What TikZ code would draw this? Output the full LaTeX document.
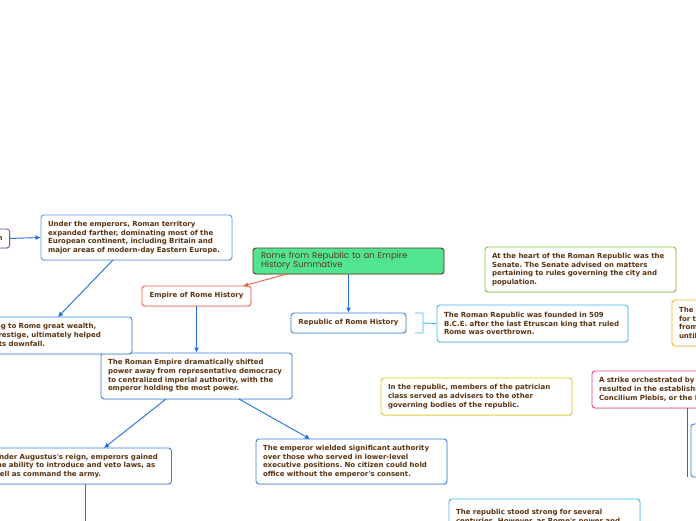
\documentclass[tikz,border=0pt]{standalone}
\usepackage{fontspec}
\newfontfamily\notefont{DejaVu Sans}
\newfontfamily\titlefont{Poppins}
\usetikzlibrary{arrows.meta,shadows}
\frenchspacing

\definecolor{notebrown}{HTML}{5A3310}
\definecolor{rootgreen}{HTML}{52E590}
\definecolor{rootedge}{HTML}{5A3A1A}
\definecolor{empblue}{HTML}{3B82E0}
\definecolor{lineblue}{HTML}{1E6FD9}
\definecolor{skyblue}{HTML}{3BB9EC}
\definecolor{redorange}{HTML}{F06040}
\definecolor{leafgreen}{HTML}{8CC43C}
\definecolor{ambery}{HTML}{F5B82E}
\definecolor{lemon}{HTML}{E5D000}
\definecolor{rosepink}{HTML}{E0457B}
\definecolor{plum}{HTML}{8A4FA0}

\begin{document}
\begin{tikzpicture}[
  x=1pt, y=-1pt,
  note/.style={draw=empblue, line width=0.9pt, rounded corners=3pt, fill=white,
    align=left, text=notebrown, inner xsep=7pt, inner ysep=0pt,
    font=\notefont\bfseries\fontsize{7}{8.7}\selectfont\frenchspacing,
    drop shadow={opacity=0.2, shadow xshift=0.6pt, shadow yshift=-1pt}},
  wide/.style={note, text width=177pt, minimum height=#1},
  topic/.style={note, align=center, minimum height=20pt},
  arrow/.style={-{Latex[length=5pt,width=5pt]}, draw=lineblue, line width=0.9pt},
  link/.style={draw=lineblue, line width=0.9pt}
]
\fill[white] (0,0) rectangle (696,520);
\useasboundingbox (0,0) rectangle (696,520);

% root
\node[note, draw=rootedge, fill=rootgreen, text=rootedge, text width=175pt, inner xsep=8pt,
  minimum height=26pt, font=\titlefont\fontsize{8.6}{9.2}\selectfont] (root) at (348.5,261)
  {Rome from Republic to an Empire\\History Summative};

% empire branch
\node[topic, draw=redorange, minimum width=109pt] (empire) at (196.5,296) {Empire of Rome History};
\node[wide=46pt] (shift) at (196.5,376)
  {The Roman Empire dramatically shifted\\power away from representative democracy\\to centralized imperial authority, with the\\emperor holding the most power.};
\node[wide=45pt, draw=empblue!80] (expand) at (136.5,237.5)
  {Under the emperors, Roman territory\\expanded farther, dominating most of the\\European continent, including Britain and\\major areas of modern-day Eastern Europe.};
\node[note, draw=plum, minimum height=19pt] (conquest) at (-17.5,238.5) {Expansion};
\node[wide=37pt] (wealth) at (36.5,335.5)
  {While bringing to Rome great wealth,\\power, and prestige, ultimately helped\\bring about its downfall.};
\node[note, text width=171pt, minimum height=36pt] (augustus) at (79,466)
  {Under Augustus's reign, emperors gained\\the ability to introduce and veto laws, as\\well as command the army.};
\node[wide=45pt] (office) at (351.5,461.5)
  {The emperor wielded significant authority\\over those who served in lower-level\\executive positions. No citizen could hold\\office without the emperor's consent.};
\coordinate (augdown) at (85,530);

\draw[arrow, draw=redorange] (287,274) -- (243,286);
\draw[arrow] (empire.south) -- (shift.north);
\draw[arrow] (conquest.east) -- (expand.west);
\draw[arrow] (113,260) -- (58,317);
\draw[arrow] (166,399) -- (104,448);
\draw[arrow] (239,399) -- (310,439);
\draw[link] (85,484) -- (augdown);

% republic branch
\node[topic, minimum width=115pt] (republic) at (348.5,323) {Republic of Rome History};
\draw[arrow] (root.south) -- (republic.north);
\node[wide=37pt, draw=skyblue] (founded) at (532.5,323.5)
  {The Roman Republic was founded in 509\\B.C.E. after the last Etruscan king that ruled\\Rome was overthrown.};
\draw[draw=skyblue, line width=0.9pt] (415,313) -- (423,313) -- (423,333) -- (415,333)
  (423,323) -- (founded.west);

\node[wide=45pt, draw=leafgreen] (senate) at (580.5,269.5)
  {At the heart of the Roman Republic was the\\Senate. The Senate advised on matters\\pertaining to rules governing the city and\\population.};
\node[wide=46pt, draw=ambery] (lasted) at (767.5,323)
  {The Republic lasted\\for the next five centuries,\\from 509 B.C.E.\\until 27 B.C.E.};
\node[wide=37pt, draw=lemon] (patrician) at (476.5,396.5)
  {In the republic, members of the patrician\\class served as advisers to the other\\governing bodies of the republic.};
\node[wide=37pt, draw=rosepink] (strike) at (687.5,389.5)
  {A strike orchestrated by the plebeians\\resulted in the establishment of the\\Concilium Plebis, or the Plebeian Council.};
\node[note, minimum width=191pt, minimum height=53pt] (council) at (786.5,450.5) {};
\draw[link] (strike.south) -- (strike.south |- council.south);
\node[wide=45pt, draw=skyblue] (stood) at (544.5,521.5)
  {The republic stood strong for several\\centuries. However, as Rome's power and\\territory grew, so did its troubles.\\};

\end{tikzpicture}
\end{document}
